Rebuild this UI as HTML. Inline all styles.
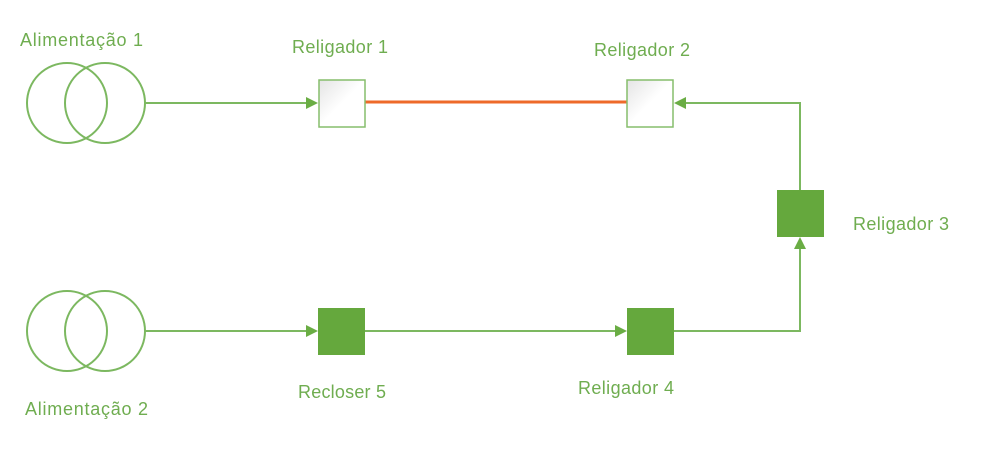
<!DOCTYPE html>
<html><head><meta charset="utf-8"><style>
html,body{margin:0;padding:0;background:#fff;}
svg{display:block;}
text{font-family:"Liberation Sans",sans-serif;font-size:18px;fill:#6fad50;}
</style></head><body>
<svg width="1000" height="473" viewBox="0 0 1000 473" xmlns="http://www.w3.org/2000/svg">
<defs>
<linearGradient id="g" x1="0" y1="0" x2="1" y2="1"><stop offset="0" stop-color="#e4e4e4"/><stop offset="0.5" stop-color="#fff"/><stop offset="1" stop-color="#fff"/></linearGradient>
</defs>
<g fill="none" stroke="#7cb860" stroke-width="2">
<circle cx="67" cy="103" r="40"/><circle cx="105" cy="103" r="40"/>
<circle cx="67" cy="331" r="40"/><circle cx="105" cy="331" r="40"/>
<line x1="145" y1="103" x2="310" y2="103"/>
<line x1="145" y1="331" x2="310" y2="331"/>
<line x1="365" y1="331" x2="619" y2="331"/>
<polyline points="674,331 800,331 800,246"/>
<polyline points="800,190 800,103 683,103"/>
</g>
<g fill="#6aad44">
<polygon points="318,103 306,97 306,109"/>
<polygon points="318,331 306,325 306,337"/>
<polygon points="627,331 615,325 615,337"/>
<polygon points="800,237 794,249 806,249"/>
<polygon points="674,103 686,97 686,109"/>
</g>
<line x1="365" y1="102" x2="627" y2="102" stroke="#ee6a2a" stroke-width="3"/>
<rect x="319" y="80" width="46" height="47" fill="url(#g)" stroke="#86bd6c" stroke-width="1.5"/>
<rect x="627" y="80" width="46" height="47" fill="url(#g)" stroke="#86bd6c" stroke-width="1.5"/>
<rect x="777" y="190" width="47" height="47" fill="#65a83d"/>
<rect x="318" y="308" width="47" height="47" fill="#65a83d"/>
<rect x="627" y="308" width="47" height="47" fill="#65a83d"/>
<text x="20" y="46" textLength="123">Alimentação 1</text>
<text x="292" y="53" textLength="96">Religador 1</text>
<text x="594" y="56" textLength="96">Religador 2</text>
<text x="853" y="230" textLength="96">Religador 3</text>
<text x="578" y="394" textLength="96">Religador 4</text>
<text x="298" y="398" textLength="88">Recloser 5</text>
<text x="25" y="415" textLength="123">Alimentação 2</text>
</svg>
</body></html>
